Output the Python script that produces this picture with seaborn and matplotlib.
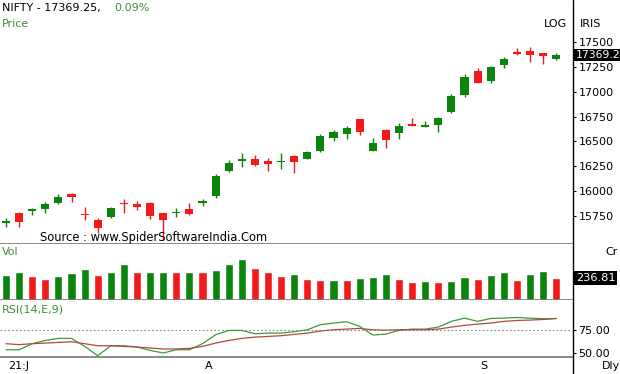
import numpy as np
import pandas as pd
import matplotlib
matplotlib.use('Agg')
import matplotlib.pyplot as plt
import matplotlib.transforms as mtransforms
from matplotlib.lines import Line2D
import seaborn as sns

# ---------------- data ----------------
opens = [15685, 15782, 15800, 15817, 15877, 15971, 15772, 15709, 15736, 15878,
         15867, 15884, 15777, 15780, 15817, 15877, 15954, 16205, 16306, 16326,
         16306, 16293, 16353, 16323, 16403, 16537, 16571, 16722, 16403, 16615,
         16588, 16675, 16648, 16665, 16799, 16967, 17208, 17111, 17269, 17402,
         17412, 17386, 17330]
highs = [15729, 15793, 15827, 15887, 15968, 15978, 15837, 15726, 15843, 15918,
         15903, 15894, 15783, 15827, 15877, 15918, 16169, 16313, 16380, 16363,
         16330, 16386, 16363, 16403, 16571, 16615, 16658, 16728, 16531, 16622,
         16682, 16732, 16705, 16742, 16974, 17175, 17235, 17262, 17352, 17437,
         17453, 17389, 17385]
lows = [15639, 15642, 15760, 15777, 15870, 15893, 15709, 15576, 15730, 15777,
        15810, 15716, 15508, 15743, 15760, 15850, 15932, 16195, 16240, 16253,
        16205, 16222, 16185, 16320, 16396, 16507, 16521, 16564, 16400, 16431,
        16524, 16655, 16642, 16598, 16789, 16944, 17085, 17085, 17235, 17369,
        17302, 17276, 17320]
closes = [15692, 15689, 15817, 15867, 15938, 15938, 15762, 15626, 15833, 15870,
          15837, 15753, 15709, 15793, 15767, 15900, 16152, 16280, 16320, 16263,
          16273, 16306, 16296, 16390, 16557, 16598, 16638, 16598, 16481, 16514,
          16658, 16658, 16662, 16732, 16957, 17151, 17091, 17245, 17329, 17379,
          17369, 17362, 17369.25]
volumes = [269, 298, 262, 226, 255, 287, 330, 273, 298, 387,
           298, 300, 305, 302, 305, 298, 323, 387, 441, 348,
           305, 262, 280, 226, 219, 220, 218, 237, 244, 280,
           226, 190, 205, 190, 205, 244, 226, 273, 298, 219,
           280, 312, 236.81]
rsi = [53.5, 53.5, 60.0, 63.5, 65.7, 65.7, 57.1, 47.1, 57.8, 57.8,
       56.4, 52.8, 50.0, 53.5, 53.5, 60.0, 69.6, 74.3, 74.3, 70.7,
       71.4, 71.4, 72.9, 75.0, 80.4, 82.2, 83.6, 78.6, 69.3, 70.4,
       74.3, 75.7, 75.7, 77.9, 84.0, 87.5, 84.0, 87.1, 87.5, 88.2,
       87.5, 86.8, 87.1]
rsi_signal = [60.0, 59.0, 60.0, 60.7, 61.4, 62.1, 60.0, 57.8, 57.8, 57.1,
              56.4, 55.4, 54.3, 54.3, 55.0, 57.1, 60.7, 63.5, 65.7, 67.1,
              67.8, 68.6, 70.0, 71.4, 73.6, 75.0, 75.7, 76.4, 75.0, 74.6,
              75.0, 75.0, 75.0, 75.7, 77.9, 79.7, 81.1, 82.2, 84.0, 85.0,
              85.4, 86.1, 87.1]
price_ticks = [15750, 16000, 16250, 16500, 16750, 17000, 17250, 17500]
rsi_ticks = [50, 75]
rsi_level = 75
month_pos = [0, 15, 36]
month_labels = ["21:J", "A", "S"]
last_price_label = "17369.2"
last_volume_label = "236.81"
change_label = "0.09%"

# ---------------- style ----------------
sns.set_theme(style='white')
plt.rcParams['font.family'] = ['DejaVu Sans']

GREEN = '#0a840a'
RED = '#f21a1a'
TXT_GREEN = '#3f8f3a'
SEP = '#808080'

n = len(closes)
df = pd.DataFrame({'idx': np.arange(n), 'open': opens, 'high': highs, 'low': lows,
                   'close': closes, 'vol': volumes, 'rsi': rsi, 'sig': rsi_signal})
df['dir'] = np.where(df['close'] >= df['open'], 'up', 'down')
df['vdir'] = ['up'] + ['up' if volumes[i] >= volumes[i - 1] else 'down' for i in range(1, n)]

W, H = 620, 374
XR = 573
fig = plt.figure(figsize=(W / 100, H / 100), dpi=100)
fig.patch.set_facecolor('white')


def rect(top, bottom):
    return [0, 1 - bottom / H, XR / W, (bottom - top) / H]


ax_p = fig.add_axes(rect(0, 244))
ax_v = fig.add_axes(rect(244, 300))
ax_r = fig.add_axes(rect(300, 357))
XLIM = (-0.46, 43.28)

for ax in (ax_p, ax_v, ax_r):
    ax.set_facecolor('white')
    for s in ('top', 'left', 'right'):
        ax.spines[s].set_visible(False)
    ax.spines['bottom'].set_color(SEP)
    ax.spines['bottom'].set_linewidth(1.3)
    ax.grid(False)

# ---------------- price candles ----------------
cols = df['dir'].map({'up': GREEN, 'down': RED}).tolist()
ax_p.vlines(df['idx'], df['low'], df['high'], colors=cols, lw=1, zorder=2)
body = np.abs(df['close'] - df['open'])
body_h = np.maximum(body, 12)
mid = (df['close'] + df['open']) / 2
ax_p.bar(df['idx'], body_h, bottom=mid - body_h / 2, width=0.62, color=cols,
         linewidth=0, zorder=3)
ax_p.set_xlim(*XLIM)
ax_p.set_ylim(15468, 17922)
ax_p.yaxis.tick_right()
ax_p.set_yticks(price_ticks)
ax_p.set_yticklabels([str(t) for t in price_ticks])
ax_p.tick_params(axis='y', length=2, width=0.8, pad=2, labelsize=8, colors='black',
                 direction='out')
ax_p.set_xticks([])
ax_p.text(1 + 2.5 / XR, closes[-1], last_price_label, transform=ax_p.get_yaxis_transform(),
          ha='left', va='center', fontsize=7.8, color='white', zorder=5,
          bbox=dict(boxstyle='square,pad=0.1', fc='black', ec='none'), clip_on=False)

# ---------------- volume ----------------
sns.barplot(data=df, x='idx', y='vol', hue='vdir', palette={'up': GREEN, 'down': RED},
            dodge=False, width=0.62, saturation=1, errorbar=None, legend=False, ax=ax_v)
ax_v.set_xlim(*XLIM)
ax_v.set_ylim(0, 603)
ax_v.set_xticks([])
ax_v.set_yticks([])
ax_v.set_xlabel('')
ax_v.set_ylabel('')
ax_v.text(1 + 3 / XR, volumes[-1], last_volume_label, transform=ax_v.get_yaxis_transform(),
          ha='left', va='center', fontsize=8.2, color='white', zorder=5,
          bbox=dict(boxstyle='square,pad=0.15', fc='black', ec='none'), clip_on=False)

# ---------------- RSI ----------------
sns.lineplot(data=df, x='idx', y='rsi', color='#3c9a3c', lw=0.9, ax=ax_r)
sns.lineplot(data=df, x='idx', y='sig', color='#b04848', lw=0.9, ax=ax_r)
ax_r.axhline(rsi_level, color='#8a8a8a', ls=(0, (1.5, 2)), lw=0.8, zorder=0)
ax_r.set_xlim(*XLIM)
ax_r.set_ylim(45.7, 107)
ax_r.set_xlabel('')
ax_r.set_ylabel('')
ax_r.yaxis.tick_right()
ax_r.set_yticks(rsi_ticks)
ax_r.set_yticklabels(['%.2f' % t for t in rsi_ticks])
ax_r.tick_params(axis='y', length=2, width=0.8, pad=2, labelsize=8, colors='black')
ax_r.set_xticks(month_pos)
ax_r.set_xticklabels([])
ax_r.tick_params(axis='x', length=3, width=0.8, colors='#555555', direction='out')
lab_tr = mtransforms.offset_copy(ax_r.get_xaxis_transform(), fig=fig, x=2.5, y=0, units='dots')
for p, l in zip(month_pos, month_labels):
    ax_r.text(p, -0.16, l, transform=lab_tr, ha='left', va='center', fontsize=8,
              color='black', clip_on=False)

# ---------------- frame line & texts ----------------
fig.add_artist(Line2D([XR / W, XR / W], [0, 1], transform=fig.transFigure,
                      color='black', lw=1))


def ftext(x, y, s, **kw):
    kw.setdefault('fontsize', 8)
    kw.setdefault('va', 'center')
    kw.setdefault('ha', 'left')
    fig.text(x / W, 1 - y / H, s, **kw)


ftext(2, 8, "NIFTY - 17369.25,", color='black')
ftext(114, 8, change_label, color=TXT_GREEN)
ftext(2, 24, "Price", color=TXT_GREEN)
ftext(567, 24, "LOG", color='black', ha='right')
ftext(580, 24, "IRIS", color='black')
ftext(2, 252, "Vol", color=TXT_GREEN)
ftext(605, 252, "Cr", color='black')
ftext(2, 310, "RSI(14,E,9)", color=TXT_GREEN)
ftext(602, 366, "Dly", color='black')
ftext(40, 237, "Source : www.SpiderSoftwareIndia.Com", color='black', fontsize=8.3)

fig.savefig('out.png', dpi=100, facecolor='white')
